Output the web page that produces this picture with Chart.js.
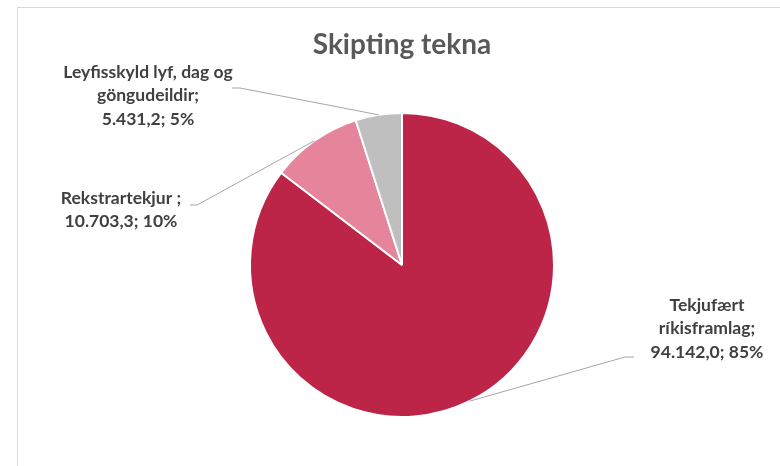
<!DOCTYPE html>
<html>
<head>
<meta charset="utf-8">
<script src="https://cdn.jsdelivr.net/npm/chart.js@4/dist/chart.umd.min.js"></script>
<style>
  html, body { margin: 0; padding: 0; background: #fff; }
  #wrap { width: 780px; height: 466px; position: relative; }
</style>
</head>
<body>
<div id="wrap"><canvas id="pieChart" width="780" height="466"></canvas></div>
<script>
const categories = ['Tekjufært ríkisframlag', 'Rekstrartekjur ', 'Leyfisskyld lyf, dag og göngudeildir'];
const values = [94142.0, 10703.3, 5431.2];
const percents = ['85%', '10%', '5%'];
const colors = ['#BC2548', '#E5849A', '#BFBFBF'];

// label text lines + where each label block sits (centre x, first line y)
const labelLines = [
  ['Tekjufært', 'ríkisframlag;', '94.142,0; 85%'],
  ['Rekstrartekjur ;', '10.703,3; 10%'],
  ['Leyfisskyld lyf, dag og', 'göngudeildir;', '5.431,2; 5%']
];
const labelPos = [
  { x: 707, y: 305, lx: 634, ly: 357, kx: 625 },
  { x: 121, y: 198, lx: 190, ly: 205, kx: 197 },
  { x: 148, y: 72, lx: 232, ly: 88, kx: 240 }
];

const frame = {
  id: 'frame',
  beforeDraw(chart) {
    const c = chart.ctx;
    c.save();
    c.strokeStyle = '#D9D9D9';
    c.lineWidth = 1;
    c.strokeRect(17.5, 7.5, 900, 600);
    c.restore();
  }
};

const leaders = {
  id: 'leaders',
  afterDatasetsDraw(chart) {
    const c = chart.ctx;
    const arcs = chart.getDatasetMeta(0).data;
    c.save();
    arcs.forEach((arc, i) => {
      const mid = (arc.startAngle + arc.endAngle) / 2;
      const px = arc.x + Math.cos(mid) * arc.outerRadius;
      const py = arc.y + Math.sin(mid) * arc.outerRadius;
      const p = labelPos[i];
      c.strokeStyle = '#A6A6A6';
      c.lineWidth = 1;
      c.beginPath();
      c.moveTo(p.lx, p.ly);
      c.lineTo(p.kx, p.ly);
      c.lineTo(px, py);
      c.stroke();

      c.fillStyle = '#404040';
      c.font = 'bold 17.5px Lato';
      c.textAlign = 'center';
      c.textBaseline = 'middle';
      labelLines[i].forEach((t, k) => c.fillText(t, p.x, p.y + k * 23.5));
    });
    c.restore();
  }
};

const ctx = document.getElementById('pieChart').getContext('2d');

const myChart = new Chart(ctx, {
  type: 'pie',
  data: {
    labels: categories,
    datasets: [{
      data: values,
      backgroundColor: colors,
      borderColor: '#FFFFFF',
      borderWidth: 2
    }]
  },
  options: {
    responsive: false,
    animation: false,
    layout: {
      padding: { left: 249, right: 225, top: 0, bottom: 48 }
    },
    plugins: {
      legend: { display: false },
      tooltip: { enabled: false },
      title: {
        display: true,
        text: 'Skipting tekna',
        color: '#595959',
        font: { family: 'Lato', size: 28, weight: 'bold', lineHeight: 1.2 },
        padding: { top: 28, bottom: 50.4 }
      }
    }
  },
  plugins: [frame, leaders]
});
</script>
</body>
</html>
